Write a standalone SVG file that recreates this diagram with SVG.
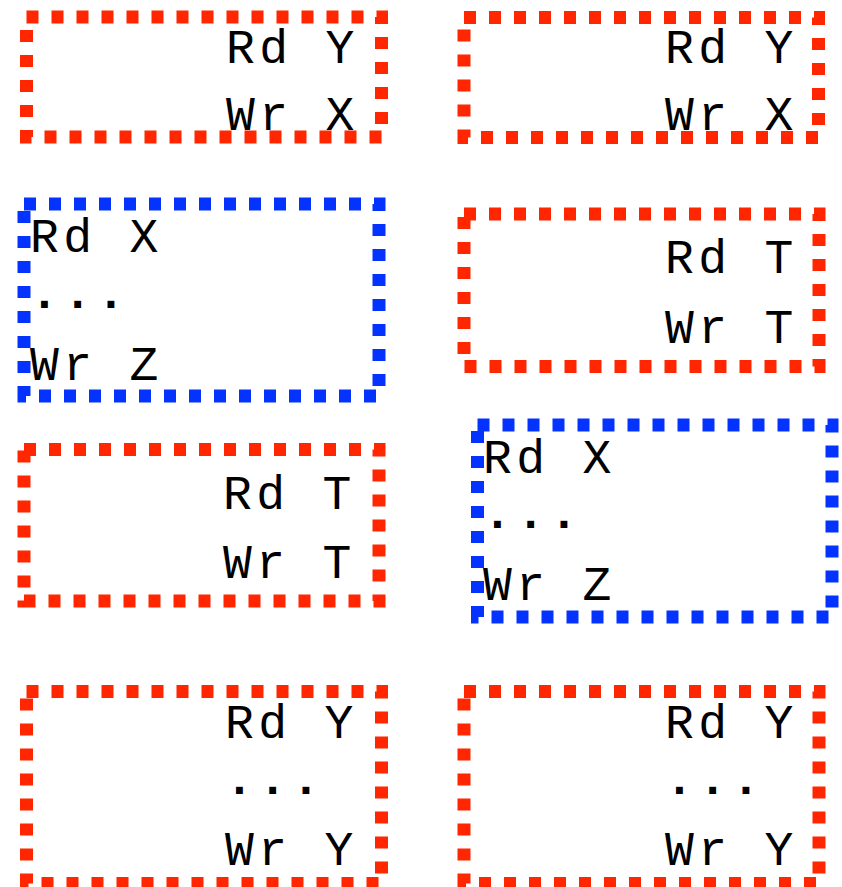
<svg xmlns="http://www.w3.org/2000/svg" width="842" height="887" viewBox="0 0 842 887">
<style>
.box{fill:none;stroke-width:13;stroke-dasharray:12 13}
.red{stroke:#ff2600}
.blue{stroke:#0433ff}
text{font-family:"Courier New","Nimbus Mono PS","Liberation Mono",monospace;font-size:48px;letter-spacing:4.4px;fill:#000}
.dots{font-weight:bold}
</style>
<rect width="842" height="887" fill="#fff"/>
<g id="box1"><rect class="box red" x="26.5" y="17" width="355" height="120"/><text x="226" y="63">Rd Y</text><text x="226" y="130">Wr X</text></g>
<g id="box2"><rect class="box red" x="464" y="17.5" width="354.5" height="120"/><text x="665" y="63">Rd Y</text><text x="665" y="130">Wr X</text></g>
<g id="box3"><rect class="box blue" x="24" y="204" width="355" height="192"/><text x="30" y="252">Rd X</text><text class="dots" x="30" y="308">...</text><text x="30" y="380">Wr Z</text></g>
<g id="box4"><rect class="box red" x="464" y="214" width="355" height="152.5"/><text x="665" y="273">Rd T</text><text x="665" y="343">Wr T</text></g>
<g id="box5"><rect class="box red" x="24" y="449.5" width="355" height="151.5"/><text x="223" y="509">Rd T</text><text x="223" y="578">Wr T</text></g>
<g id="box6"><rect class="box blue" x="477.5" y="425" width="354.5" height="192"/><text x="483" y="473">Rd X</text><text class="dots" x="483" y="528">...</text><text x="483" y="600">Wr Z</text></g>
<g id="box7"><rect class="box red" x="26.5" y="691.5" width="355" height="192"/><text x="225" y="738">Rd Y</text><text class="dots" x="225" y="794">...</text><text x="225" y="865">Wr Y</text></g>
<g id="box8"><rect class="box red" x="464" y="691.5" width="355" height="192"/><text x="665" y="738">Rd Y</text><text class="dots" x="665" y="794">...</text><text x="665" y="865">Wr Y</text></g>
<g id="connectors"/>
</svg>
